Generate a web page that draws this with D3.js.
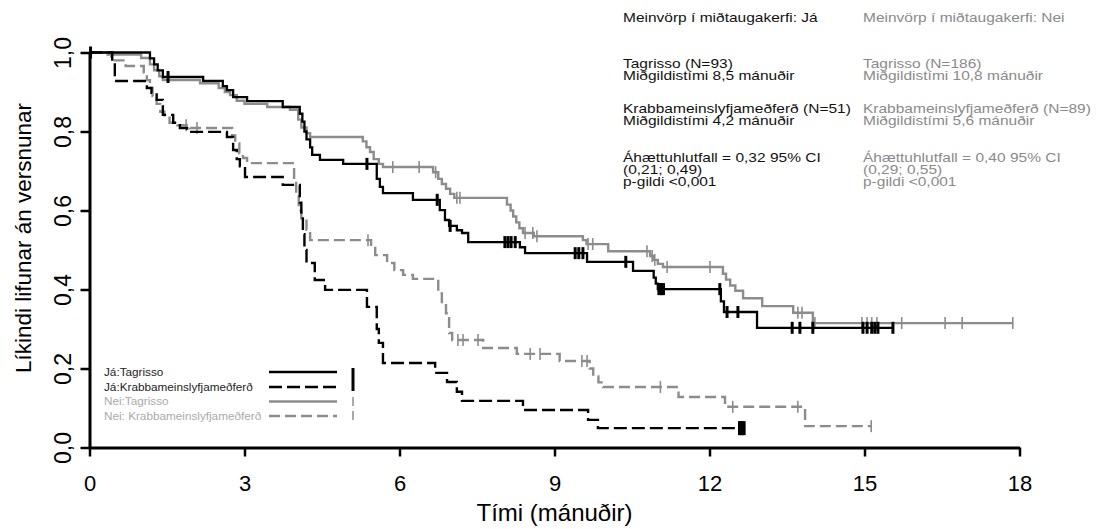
<!DOCTYPE html>
<html><head><meta charset="utf-8">
<script src="https://cdn.jsdelivr.net/npm/d3@7"></script>
<style>body{margin:0;background:#fff}svg{display:block}text{font-family:"Liberation Sans",Arial,sans-serif}</style>
</head><body>
<svg id="c" width="1101" height="529"></svg>
<script>
// ---- data ----
const xTicks = [0,3,6,9,12,15,18];
const yTicks = [0,0.2,0.4,0.6,0.8,1.0];
const xTitle = "Tími (mánuðir)";
const yTitle = "Líkindi lifunar án versnunar";

// Já: Tagrisso — [time, survival after event]
const jaTagEvents = [[1.17,0.985],[1.25,0.97],[1.32,0.955],[1.42,0.938],[2.20,0.928],[2.58,0.915],[2.66,0.905],[2.78,0.887],[3.05,0.877],[3.74,0.862],[4.07,0.845],[4.12,0.825],[4.16,0.80],[4.2,0.78],[4.27,0.76],[4.31,0.741],[4.46,0.728],[4.91,0.718],[5.56,0.68],[5.62,0.66],[5.68,0.644],[6.26,0.627],[6.78,0.601],[6.88,0.576],[6.96,0.561],[7.11,0.55],[7.21,0.543],[7.33,0.520],[8.33,0.507],[8.43,0.492],[9.63,0.470],[10.52,0.447],[10.92,0.43],[10.96,0.415],[11.0,0.401],[12.22,0.37],[12.28,0.343],[12.92,0.303]];
const jaTagCensor = [0.02,1.52,5.37,6.73,6.98,8.04,8.1,8.16,8.24,9.40,9.47,9.55,10.38,11.02,11.05,11.08,11.11,12.20,12.34,12.55,13.6,13.75,14.0,14.97,15.05,15.14,15.2,15.26,15.55];
const jaTagEnd = 15.55;

// Já: Krabbameinslyfjameðferð
const jaChemoEvents = [[0.44,0.976],[0.49,0.928],[1.11,0.91],[1.2,0.898],[1.3,0.88],[1.42,0.842],[1.62,0.822],[1.75,0.809],[1.89,0.799],[2.66,0.786],[2.78,0.753],[2.85,0.73],[2.91,0.712],[3.01,0.685],[3.74,0.665],[4.07,0.62],[4.1,0.58],[4.13,0.54],[4.16,0.5],[4.2,0.467],[4.36,0.424],[4.56,0.399],[5.37,0.356],[5.56,0.3],[5.6,0.265],[5.68,0.214],[6.69,0.189],[6.92,0.166],[7.11,0.141],[7.21,0.118],[8.39,0.095],[9.65,0.07],[9.84,0.049]];
const jaChemoCensor = [12.58,12.61,12.64,12.67];
const jaChemoEnd = 12.67;

// Nei: Tagrisso
const neiTagEvents = [[0.35,0.995],[1.0,0.986],[1.17,0.97],[1.25,0.955],[1.35,0.94],[1.42,0.93],[2.14,0.922],[2.5,0.91],[2.62,0.9],[2.72,0.892],[2.85,0.878],[3.0,0.87],[3.44,0.862],[3.88,0.855],[4.04,0.83],[4.1,0.81],[4.2,0.796],[4.27,0.786],[5.29,0.775],[5.36,0.76],[5.43,0.748],[5.5,0.73],[5.6,0.718],[5.68,0.71],[6.65,0.697],[6.75,0.68],[6.82,0.667],[6.9,0.655],[6.98,0.642],[7.06,0.632],[8.08,0.615],[8.15,0.6],[8.2,0.585],[8.26,0.57],[8.32,0.555],[8.39,0.543],[8.6,0.535],[9.55,0.525],[9.62,0.515],[10.04,0.497],[10.85,0.485],[10.92,0.475],[11.0,0.465],[11.1,0.457],[12.26,0.44],[12.32,0.425],[12.4,0.41],[12.5,0.397],[12.65,0.378],[13.02,0.358],[13.62,0.341],[14.0,0.315]];
const neiTagCensor = [5.87,6.38,6.70,7.11,7.17,8.43,8.58,8.66,9.65,9.74,10.79,10.89,10.94,11.18,12.01,13.71,13.79,14.04,14.95,15.05,15.14,15.24,15.72,16.56,16.89,17.87];
const neiTagEnd = 17.87;

// Nei: Krabbameinslyfjameðferð
const neiChemoEvents = [[0.42,0.98],[0.7,0.966],[1.05,0.95],[1.11,0.93],[1.17,0.91],[1.22,0.89],[1.3,0.87],[1.37,0.85],[1.45,0.835],[1.55,0.822],[1.7,0.816],[1.95,0.809],[2.76,0.79],[2.82,0.77],[2.9,0.745],[2.97,0.733],[3.05,0.72],[3.96,0.68],[4.0,0.64],[4.05,0.6],[4.1,0.58],[4.2,0.551],[4.27,0.525],[5.45,0.505],[5.53,0.487],[5.76,0.467],[5.9,0.449],[6.07,0.437],[6.26,0.427],[6.75,0.39],[6.82,0.36],[6.9,0.34],[6.96,0.29],[7.02,0.272],[7.62,0.252],[8.27,0.237],[9.1,0.219],[9.68,0.2],[9.75,0.18],[9.85,0.165],[9.94,0.153],[11.4,0.128],[12.3,0.103],[13.85,0.054]];
const neiChemoCensor = [1.87,2.08,5.39,7.13,7.23,7.52,8.53,8.72,9.53,9.63,11.05,12.45,13.71,15.13];
const neiChemoEnd = 15.13;

const legendLabels = ["Já:Tagrisso","Já:Krabbameinslyfjameðferð","Nei:Tagrisso","Nei: Krabbameinslyfjameðferð"];
const annoJa = [["Meinvörp í miðtaugakerfi: Já"],["Tagrisso (N=93)","Miðgildistími 8,5 mánuðir"],["Krabbameinslyfjameðferð (N=51)","Miðgildistími 4,2 mánuðir"],["Áhættuhlutfall = 0,32 95% CI","(0,21; 0,49)","p-gildi <0,001"]];
const annoNei = [["Meinvörp í miðtaugakerfi: Nei"],["Tagrisso (N=186)","Miðgildistími 10,8 mánuðir"],["Krabbameinslyfjameðferð (N=89)","Miðgildistími 5,6 mánuðir"],["Áhættuhlutfall = 0,40 95% CI","(0,29; 0,55)","p-gildi <0,001"]];

// ---- drawing ----
const svg = d3.select("#c");
const x = d3.scaleLinear().domain([0,18]).range([89.5,1019.5]);
const y = d3.scaleLinear().domain([0,1]).range([447.5,52.5]);
const fmt = d => d3.format(".1f")(d).replace(".",",");

const GRAY = "#8c8c8c";
const series = [
  {ev: jaTagEvents, cen: jaTagCensor, end: jaTagEnd, color:"#000", dash:null, w:2.3, tick:{w:3,h:6}},
  {ev: jaChemoEvents, cen: jaChemoCensor, end: jaChemoEnd, color:"#000", dash:"13,5", w:2.4, tick:{w:3,h:7}},
  {ev: neiTagEvents, cen: neiTagCensor, end: neiTagEnd, color:GRAY, dash:null, w:2.4, tick:{w:1.6,h:6}},
  {ev: neiChemoEvents, cen: neiChemoCensor, end: neiChemoEnd, color:GRAY, dash:"11,5", w:2.4, tick:{w:1.6,h:6}}
];
function survAt(ev, t){ let s=1; for(const e of ev){ if(e[0]<=t) s=e[1]; } return s; }
const line = d3.line().x(d=>x(d[0])).y(d=>y(d[1])).curve(d3.curveStepAfter);

[2,3,0,1].forEach(i=>{
  const s = series[i];
  const pts = [[0,1]].concat(s.ev).concat([[s.end, s.ev[s.ev.length-1][1]]]);
  svg.append("path").attr("d", line(pts)).attr("fill","none").attr("stroke",s.color)
    .attr("stroke-width",s.w).attr("stroke-dasharray",s.dash);
  svg.append("g").selectAll("line").data(s.cen).join("line")
    .attr("x1",d=>x(d)).attr("x2",d=>x(d))
    .attr("y1",d=>y(survAt(s.ev,d))-s.tick.h).attr("y2",d=>y(survAt(s.ev,d))+s.tick.h)
    .attr("stroke",s.color).attr("stroke-width",s.tick.w);
});

// axes
const gx = svg.append("g").attr("transform","translate(0,447.5)")
  .call(d3.axisBottom(x).tickValues(xTicks).tickSize(9).tickSizeOuter(0).tickPadding(18));
gx.select(".domain").attr("stroke","#000").attr("stroke-width",3);
gx.selectAll(".tick line").attr("stroke","#000").attr("stroke-width",2.5);
gx.selectAll(".tick text").attr("font-size",22).attr("font-family","Liberation Sans, Arial, sans-serif").attr("fill","#000").attr("dy","0.75em");

const gy = svg.append("g").attr("transform","translate(89.5,0)")
  .call(d3.axisLeft(y).tickValues(yTicks).tickFormat(fmt).tickSize(9).tickSizeOuter(0));
gy.select(".domain").attr("stroke","#000").attr("stroke-width",3);
gy.selectAll(".tick line").attr("stroke","#000").attr("stroke-width",2.5);
gy.selectAll(".tick text").attr("font-size",23).attr("font-family","Liberation Sans, Arial, sans-serif").attr("fill","#000")
  .attr("x",0).attr("dy",0).attr("text-anchor","middle").attr("transform","translate(-19,0) rotate(-90)");

svg.append("text").attr("x",x(9)).attr("y",521).attr("text-anchor","middle").attr("font-size",24).text(xTitle);
svg.append("text").attr("transform","translate(31,238) rotate(-90)").attr("text-anchor","middle").attr("font-size",22.5).text(yTitle);

// legend
const lg = svg.append("g");
const lgColors = ["#222","#222","#aaa","#aaa"];
const lgLine = [{c:"#000",d:null},{c:"#000",d:"13,5"},{c:GRAY,d:null},{c:GRAY,d:"11,5"}];
const lgY = [372,387,401.5,416];
legendLabels.forEach((lab,i)=>{
  lg.append("text").attr("transform",`translate(104,${lgY[i]+3.5}) scale(1.12,1)`).attr("font-size",10.5).attr("fill",lgColors[i]).text(lab);
  lg.append("line").attr("x1",269).attr("x2",337).attr("y1",lgY[i]).attr("y2",lgY[i])
    .attr("stroke",lgLine[i].c).attr("stroke-width",2.4).attr("stroke-dasharray",lgLine[i].d);
});
lg.append("line").attr("x1",353).attr("x2",353).attr("y1",368).attr("y2",391).attr("stroke","#000").attr("stroke-width",3);
lg.append("line").attr("x1",353).attr("x2",353).attr("y1",397).attr("y2",406).attr("stroke",GRAY).attr("stroke-width",1.5);
lg.append("line").attr("x1",353).attr("x2",353).attr("y1",411).attr("y2",420).attr("stroke",GRAY).attr("stroke-width",1.5);

// annotation blocks
const groupTop = [22, 67.5, 112.5, 161.5], annoDy = 12.4;
[[annoJa,623,"#111"],[annoNei,863,"#8a8a8a"]].forEach(([groups,x0,col])=>{
  groups.forEach((g,gi)=>{
    g.forEach((t,li)=>{
      svg.append("text").attr("transform",`translate(${x0},${groupTop[gi]+li*annoDy}) scale(1.24,1)`)
        .attr("font-size",12.5).attr("fill",col).text(t);
    });
  });
});
</script>
</body></html>
